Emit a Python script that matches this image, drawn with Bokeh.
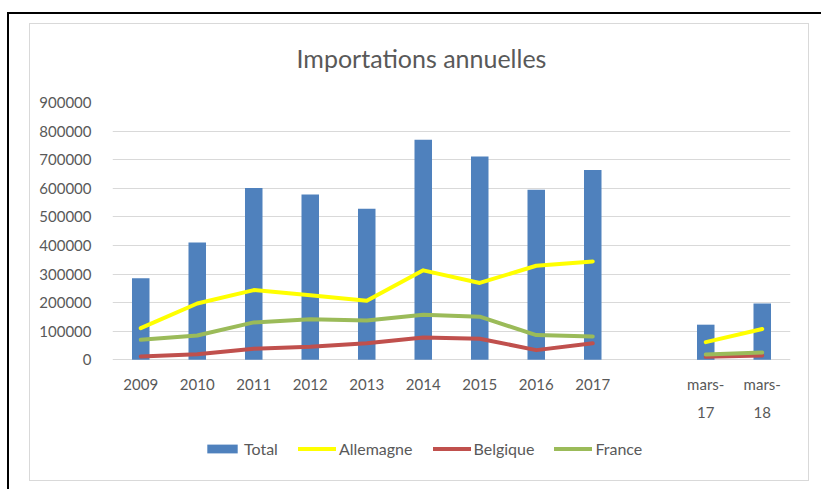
from bokeh.plotting import figure
from bokeh.models import (ColumnDataSource, FactorRange, Range1d, FixedTicker,
                          BasicTickFormatter, Legend, LegendItem)
from bokeh.layouts import column
from bokeh.embed import file_html
from bokeh.resources import INLINE

# ---- data ----
categories = ["2009", "2010", "2011", "2012", "2013", "2014", "2015", "2016", "2017",
              " ", "mars-\n17", "mars-\n18"]
total = [285000, 410000, 601000, 578000, 528000, 770000, 711000, 595000, 664000,
         None, 123000, 197000]
allemagne = [111000, 197000, 244000, 226000, 207000, 313000, 269000, 329000, 344000,
             None, 62000, 108000]
belgique = [12000, 20000, 39000, 46000, 58000, 78000, 74000, 34000, 58000,
            None, 10500, 15000]
france = [70000, 85000, 131000, 142000, 138000, 158000, 151000, 86500, 82000,
          None, 18600, 25700]
y_ticks = [0, 100000, 200000, 300000, 400000, 500000, 600000, 700000, 800000, 900000]
y_max = 900000

nan = float("nan")
def clean(v):
    return [nan if x is None else x for x in v]

FONT = "Lato"
TXT = "#595959"

# ---- layout constants (pixels) ----
W, H = 780, 458            # chart area incl. 1px grey border
CW, CH = W - 2, H - 2      # drawing canvas
LEFT, TOP, PLOT_W, PLOT_H = 82, 78, 676, 256   # value-area geometry
FRAME_H = CH - TOP
y_start = -y_max * (FRAME_H - PLOT_H) / PLOT_H  # room below 0 for labels/legend

bar_idx = [i for i, v in enumerate(total) if v is not None]
bar_src = ColumnDataSource(dict(x=[categories[i] for i in bar_idx],
                                top=[total[i] for i in bar_idx]))
line_src = ColumnDataSource(dict(x=categories, de=clean(allemagne),
                                 be=clean(belgique), fr=clean(france)))

p = figure(x_range=FactorRange(*categories, range_padding=0, factor_padding=0),
           y_range=Range1d(y_start, y_max),
           width=W, height=H, output_backend="svg", toolbar_location=None,
           min_border_left=LEFT, min_border_right=CW - LEFT - PLOT_W,
           min_border_top=TOP, min_border_bottom=0)

p.outline_line_color = None
p.xgrid.grid_line_color = None
p.ygrid.grid_line_color = "#D9D9D9"
p.ygrid.grid_line_width = 1

r_total = p.vbar(x="x", top="top", bottom=0, width=0.31, source=bar_src,
                 fill_color="#4F81BD", line_color=None)
r_de = p.line(x="x", y="de", source=line_src, line_color="#FFFF00", line_width=4,
              line_cap="round", line_join="round")
r_be = p.line(x="x", y="be", source=line_src, line_color="#C0504D", line_width=4,
              line_cap="round", line_join="round")
r_fr = p.line(x="x", y="fr", source=line_src, line_color="#9BBB59", line_width=4,
              line_cap="round", line_join="round")

# axes
p.yaxis.ticker = FixedTicker(ticks=y_ticks)
p.yaxis.formatter = BasicTickFormatter(use_scientific=False)
p.xaxis.fixed_location = 0
for ax in (p.xaxis[0], p.yaxis[0]):
    ax.axis_line_color = None
    ax.major_tick_line_color = None
    ax.minor_tick_line_color = None
    ax.major_label_text_font = FONT
    ax.major_label_text_font_size = "15px"
    ax.major_label_text_color = TXT
p.yaxis.major_label_standoff = 15
p.xaxis.major_label_standoff = 9
p.xaxis.major_label_text_line_height = 1.55

# title
p.title.text = "Importations annuelles\n"
p.title.align = "left"
p.title.offset = 184
p.title.standoff = 0
p.title.text_font = FONT
p.title.text_font_size = "25px"
p.title.text_font_style = "normal"
p.title.text_color = TXT

legend = Legend(items=[LegendItem(label="Total", renderers=[r_total]),
                       LegendItem(label="Allemagne", renderers=[r_de]),
                       LegendItem(label="Belgique", renderers=[r_be]),
                       LegendItem(label="France", renderers=[r_fr])],
                orientation="horizontal", location=(91, 24),
                glyph_width=38, glyph_height=11, label_standoff=3, spacing=20,
                padding=0, margin=0, border_line_color=None,
                background_fill_alpha=0,
                label_text_font=FONT, label_text_font_size="16px",
                label_text_color=TXT)
p.add_layout(legend, "center")

p.styles = {"border": "1px solid #D9D9D9"}
outer = column(p, styles={"border-top": "2px solid black",
                          "border-left": "2px solid black",
                          "margin-left": "7px", "margin-top": "12px",
                          "padding-left": "20px", "padding-top": "9px",
                          "padding-right": "12px", "padding-bottom": "8px"})

open("out.html", "w").write(file_html(outer, INLINE))
